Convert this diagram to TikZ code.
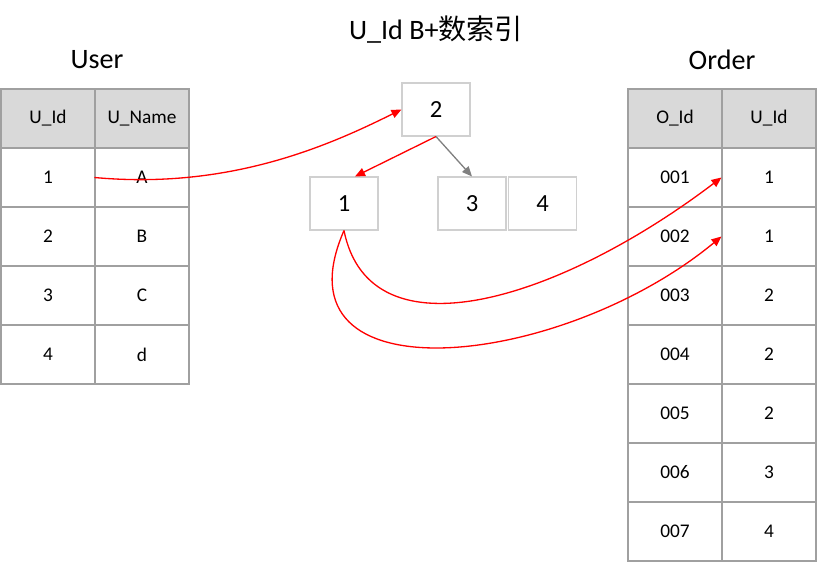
\documentclass[tikz,border=0pt]{standalone}
\usepackage{amsmath}
\usepackage{fontspec}
\setmainfont{Carlito}
\newfontfamily\cjk{Noto Sans CJK SC}
\usetikzlibrary{arrows.meta, positioning, calc}
\definecolor{HeadGray}{RGB}{217,217,217}
\definecolor{CellLine}{RGB}{160,160,160}
\definecolor{BoxLine}{RGB}{208,208,208}

\begin{document}
\begin{tikzpicture}[
    cell/.style={draw=CellLine, line width=0.6pt, minimum width=1.88cm, minimum height=1.18cm, inner sep=0, font=\fontsize{11}{13}\selectfont},
    head/.style={cell, fill=HeadGray},
    key/.style={draw=BoxLine, line width=0.6pt, minimum width=1.36cm, minimum height=1.06cm, inner sep=0, font=\fontsize{14}{16}\selectfont},
    title/.style={font=\fontsize{16}{18}\selectfont},
    link/.style={red, line width=0.75pt, -{Triangle[length=0.2cm,width=0.17cm]}},
    down/.style={gray, line width=0.75pt, -{Triangle[length=0.2cm,width=0.17cm]}}]
    \useasboundingbox (0,0) rectangle (16.36,11.22);
    % titles
    \node[title] (idx) at (8.72,10.62) {U\_Id B+{\cjk 数索引}};
    \node[title] (usr) at (1.94,10.02) {User};
    \node[title] (ord) at (14.44,10.02) {Order};
    % User table
    \node[head] (userha) at (0.96,8.85) {U\_Id};
    \node[head] (userhb) at (2.84,8.85) {U\_Name};
    \foreach \a/\b [count=\r] in {1/A,2/B,3/C,4/d}
    {
        \node[cell] (usera\r) at (0.96,{8.85-1.18*\r}) {\a};
        \node[cell] (userb\r) at (2.84,{8.85-1.18*\r}) {\b};
    }
    % Order table
    \node[head] (orderha) at (13.50,8.85) {O\_Id};
    \node[head] (orderhb) at (15.38,8.85) {U\_Id};
    \foreach \a/\b [count=\r] in {001/1,002/1,003/2,004/2,005/2,006/3,007/4}
    {
        \node[cell] (ordera\r) at (13.50,{8.85-1.18*\r}) {\a};
        \node[cell] (orderb\r) at (15.38,{8.85-1.18*\r}) {\b};
    }
    % B+ tree keys
    \node[key] (key2) at (8.72,9.03) {2};
    \node[key] (key1) at (6.88,7.15) {1};
    \node[key] (key3) at (9.44,7.15) {3};
    \node[key] (key4) at (10.85,7.15) {4};
    % links
    \draw[link] (userb1.west) .. controls (4.6,7.42) and (6.6,8.32) .. (key2.west);
    \draw[link] (key2.south) -- ([xshift=0.22cm]key1.north);
    \draw[down] (key2.south) -- (key3.north);
    \draw[link] (key1.south) .. controls (7.40,4.02) and (11.2,5.22) .. (orderb1.west);
    \draw[link] (key1.south) .. controls (5.40,3.22) and (11.2,3.82) .. (orderb2.west);
\end{tikzpicture}
\end{document}
